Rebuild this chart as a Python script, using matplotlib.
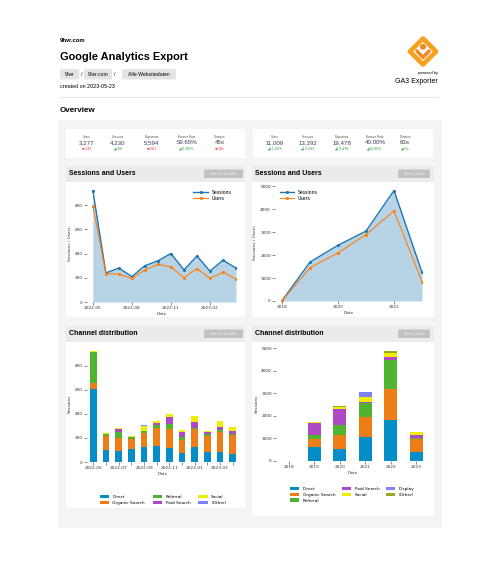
import matplotlib
matplotlib.use('Agg')
import matplotlib.pyplot as plt
import numpy as np
from matplotlib.patches import Rectangle, FancyBboxPatch, Polygon, Circle
from matplotlib.lines import Line2D
from matplotlib.transforms import Affine2D

# ---------------- data ----------------
months = ['2022-05', '2022-06', '2022-07', '2022-08', '2022-09', '2022-10',
          '2022-11', '2022-12', '2023-01', '2023-02', '2023-03', '2023-04']
sessions_12m = [920, 240, 280, 210, 300, 340, 400, 265, 380, 255, 345, 280]
users_12m = [790, 235, 230, 195, 265, 310, 290, 200, 275, 195, 245, 190]

years = ['2018', '2019', '2020', '2021', '2022', '2023']
sessions_6y = [10, 1700, 2430, 3050, 4820, 1250]
users_6y = [5, 1450, 2100, 2900, 3930, 850]

channels_12m = ['Direct', 'Organic Search', 'Referral', 'Paid Search', 'Social', '(Other)']
direct_12m = [610, 100, 95, 108, 125, 133, 120, 78, 125, 80, 83, 69]
organic_12m = [45, 115, 102, 82, 117, 150, 158, 103, 147, 139, 167, 159]
referral_12m = [265, 20, 50, 15, 20, 28, 36, 25, 11, 14, 14, 3]
paid_12m = [0, 0, 28, 0, 0, 17, 58, 44, 53, 14, 25, 27]
social_12m = [8, 10, 5, 10, 40, 10, 25, 14, 47, 8, 50, 34]
other_12m = [0, 0, 0, 0, 8, 5, 0, 0, 0, 5, 5, 0]

channels_6y = ['Direct', 'Organic Search', 'Referral', 'Paid Search', 'Social', 'Display', '(Other)']
direct_6y = [5, 620, 516, 1047, 1844, 383]
organic_6y = [0, 340, 634, 900, 1371, 605]
referral_6y = [15, 190, 458, 650, 1283, 15]
paid_6y = [0, 517, 722, 30, 133, 147]
social_6y = [0, 58, 90, 236, 177, 133]
display_6y = [0, 0, 0, 222, 0, 0]
other_6y = [0, 0, 30, 0, 59, 0]

kpi_labels = ['Users', 'Sessions', 'Pageviews', 'Bounce Rate', 'Duration']
kpi_12m_values = ['3,277', '4,230', '5,594', '59.65%', '45s']
kpi_12m_deltas = ['-132', '208', '-562', '41.85%', '-28s']
kpi_12m_up = [False, True, False, True, False]
kpi_6y_values = ['11,009', '13,292', '19,478', '40.00%', '63s']
kpi_6y_deltas = ['11,009', '13,292', '19,478', '40.00%', '63s']
kpi_6y_up = [True, True, True, True, True]

breadcrumbs = ['9fwr', '9fwr.com', 'Alle Websitedaten']

# ---------------- styling ----------------
COL = {'Direct': '#058DC7', 'Organic Search': '#ED7E17', 'Referral': '#50B432',
       'Paid Search': '#AF49C5', 'Social': '#EDEF00', '(Other)': '#8080FF',
       'Display': '#8080FF'}
COL6 = dict(COL)
COL6['(Other)'] = '#A0A424'

W, H = 500, 585
plt.rcParams['font.family'] = ['Liberation Sans', 'DejaVu Sans']
fig = plt.figure(figsize=(W / 100, H / 100), dpi=100)
fig.patch.set_facecolor('white')
T = Affine2D().scale(1 / W, -1 / H).translate(0, 1) + fig.transFigure


def box(x0, y0, x1, y1, color, r=0.0, z=-2):
    p = FancyBboxPatch((x0, y0), x1 - x0, y1 - y0,
                       boxstyle=f'round,pad=0,rounding_size={r}',
                       transform=T, facecolor=color, edgecolor='none', zorder=z)
    fig.patches.append(p)


def txt(x, y, s, size, **kw):
    kw.setdefault('va', 'center')
    fig.text(x, y, s, transform=T, fontsize=size, **kw)


def axes(l, t, r, b):
    ax = fig.add_axes([l / W, 1 - b / H, (r - l) / W, (b - t) / H])
    ax.set_facecolor('none')
    ax.set_zorder(1)
    for s in ax.spines.values():
        s.set_visible(False)
    ax.tick_params(labelsize=3.1, length=2, width=0.4, pad=1, colors='#333333')
    return ax


# ---------------- header ----------------
txt(60, 40, '9fwr.com', 4.2, weight='bold')
txt(60, 57, 'Google Analytics Export', 7.9, weight='bold')
xs = [60, 84, 122]
widths = [19, 28, 54]
for i, (b, x0, wpx) in enumerate(zip(breadcrumbs, xs, widths)):
    box(x0, 69, x0 + wpx, 79.5, '#e4e4e4', r=1.5)
    txt(x0 + wpx / 2, 74.5, b, 3.7, ha='center')
    if i < 2:
        txt(x0 + wpx + 3, 74.5, '/', 3.7, ha='center')
txt(60, 87, 'created on 2023-05-23', 3.9)
fig.lines.append(Line2D([60, 438], [97, 97], transform=T, color='#e2e2e2', lw=0.6))

# logo
dia = Polygon([(423, 38.5), (436, 51.5), (423, 64.5), (410, 51.5)], closed=True, transform=T,
              facecolor='white', edgecolor='#F5A21E', lw=3.4, joinstyle='round')
fig.patches.append(dia)
fig.patches.append(Circle((423, 46.8), 2.3, transform=T, color='#F08A24'))
fig.lines.append(Line2D([417, 423, 429], [51.0, 57.5, 51.0], transform=T, color='#F08A24',
                        lw=2.6, solid_capstyle='round', solid_joinstyle='round'))
txt(438, 73, 'powered by', 2.8, ha='right')
txt(438, 81.5, 'GA3 Exporter', 5.0, ha='right')

txt(60, 111, 'Overview', 5.8, weight='bold')

# ---------------- panel ----------------
box(58, 120, 442, 528, '#f4f4f4', r=2, z=-3)


def kpi_card(x0, x1, centers, values, deltas, ups):
    box(x0, 129, x1, 158, 'white', r=1)
    for cx, lab, v, d, up in zip(centers, kpi_labels, values, deltas, ups):
        txt(cx, 137, lab, 2.2, ha='center', color='#555555')
        txt(cx, 142.7, v, 4.4, ha='center', color='#3b3b5c')
        col = '#2e9e3e' if up else '#e53935'
        sym = '\u25B2' if up else '\u25BC'
        fig.text(cx, 148.2, sym + d, transform=T, fontsize=2.4, ha='center', va='center',
                 color=col, family=['DejaVu Sans'])


kpi_card(66, 245, [87, 118, 152, 187, 220], kpi_12m_values, kpi_12m_deltas, kpi_12m_up)
kpi_card(253, 433, [275, 308, 342, 375, 405], kpi_6y_values, kpi_6y_deltas, kpi_6y_up)


def card(x0, x1, y0, y1, title, pill, px0, px1):
    box(x0, y0, x1, y1, 'white', r=1)
    box(x0, y0, x1, y0 + 16, '#ebebeb', r=0, z=-1.5)
    txt(x0 + 3, y0 + 7.5, title, 5.0, weight='bold')
    box(px0, y0 + 3.5, px1, y0 + 12, '#c2c2c2', r=1.2, z=-1)
    txt((px0 + px1) / 2, y0 + 8, pill, 2.9, ha='center', color='#f0f0f0')


card(66, 245, 166, 317, 'Sessions and Users', 'last 12 months', 204, 243)
card(252, 434, 166, 317, 'Sessions and Users', 'last 6 years', 398, 430)
card(66, 245, 326, 508, 'Channel distribution', 'last 12 months', 204, 243)
card(252, 434, 326, 516, 'Channel distribution', 'last 6 years', 398, 430)


# ---------------- line charts ----------------
def line_chart(ax, labels, s, u, ticks, legloc):
    x = np.arange(len(labels))
    ax.fill_between(x, 0, s, color='#1f77b4', alpha=0.32, lw=0)
    ax.plot(x, s, color='#1f77b4', lw=1.0, marker='.', ms=2.5, label='Sessions')
    ax.plot(x, u, color='#ff7f0e', lw=0.8, marker='.', ms=2.5, label='Users')
    ax.set_xticks(ticks)
    ax.set_xticklabels([labels[i] for i in ticks])
    ax.set_ylim(0, max(s) * 1.05)
    ax.set_xlabel('Date', fontsize=3.1, labelpad=1, color='#333333', family='DejaVu Sans')
    ax.set_ylabel('Sessions / Users', fontsize=3.1, labelpad=2, color='#333333', family='DejaVu Sans')
    ax.legend(loc=legloc, frameon=False, handlelength=3.2,
              borderaxespad=0.6, labelspacing=0.3, prop={'family': 'DejaVu Sans', 'size': 3.3})


ax1 = axes(87, 185, 236, 302)
line_chart(ax1, months, sessions_12m, users_12m, [0, 3, 6, 9], 'upper right')
ax1.set_xlim(-0.45, 11)
ax1.set_yticks([0, 200, 400, 600, 800])

ax2 = axes(275, 185, 422, 301)
line_chart(ax2, years, sessions_6y, users_6y, [0, 2, 4], 'upper left')
ax2.set_xlim(-0.25, 5)
ax2.set_yticks([0, 1000, 2000, 3000, 4000, 5000])


# ---------------- bar charts ----------------
def bar_chart(ax, labels, series, names, colors, width, ticklabels_idx):
    x = np.arange(len(labels))
    bottom = np.zeros(len(labels))
    for vals, name in zip(series, names):
        vals = np.array(vals, dtype=float)
        ax.bar(x, vals, bottom=bottom, width=width, color=colors[name], label=name, lw=0)
        bottom += vals
    ax.set_xticks(x)
    ax.set_xticklabels([labels[i] if i in ticklabels_idx else '' for i in x])
    ax.set_xlim(-0.5, len(labels) - 0.5)
    ax.set_ylim(0, bottom.max() * 1.05)
    ax.set_xlabel('Date', fontsize=3.1, labelpad=1, color='#333333', family='DejaVu Sans')
    ax.set_ylabel('Sessions', fontsize=3.1, labelpad=2, color='#333333', family='DejaVu Sans')


ax3 = axes(87, 345, 239, 462)
bar_chart(ax3, months, [direct_12m, organic_12m, referral_12m, paid_12m, social_12m, other_12m],
          channels_12m, COL, 0.55, [0, 2, 4, 6, 8, 10])
ax3.set_yticks([0, 200, 400, 600, 800])
ax3.legend(loc='upper center', bbox_to_anchor=(163 / W, 1 - 493 / H), bbox_transform=fig.transFigure,
           ncol=3, frameon=False, handlelength=2.2, handleheight=0.8,
           columnspacing=1.8, labelspacing=0.4, borderpad=0, handletextpad=0.8,
           prop={'family': 'DejaVu Sans', 'size': 3.1})

ax4 = axes(276, 346, 429, 461)
bar_chart(ax4, years, [direct_6y, organic_6y, referral_6y, paid_6y, social_6y, display_6y, other_6y],
          channels_6y, COL6, 0.5, list(range(6)))
ax4.set_yticks([0, 1000, 2000, 3000, 4000, 5000])
ax4.legend(loc='upper center', bbox_to_anchor=(352 / W, 1 - 484.5 / H), bbox_transform=fig.transFigure,
           ncol=3, frameon=False, handlelength=2.2, handleheight=0.8,
           columnspacing=1.5, labelspacing=0.4, borderpad=0, handletextpad=0.8,
           prop={'family': 'DejaVu Sans', 'size': 3.1})

for ax in fig.axes:
    for t in ax.get_xticklabels() + ax.get_yticklabels():
        t.set_family('DejaVu Sans')

fig.savefig('out.png', dpi=100, facecolor='white')
